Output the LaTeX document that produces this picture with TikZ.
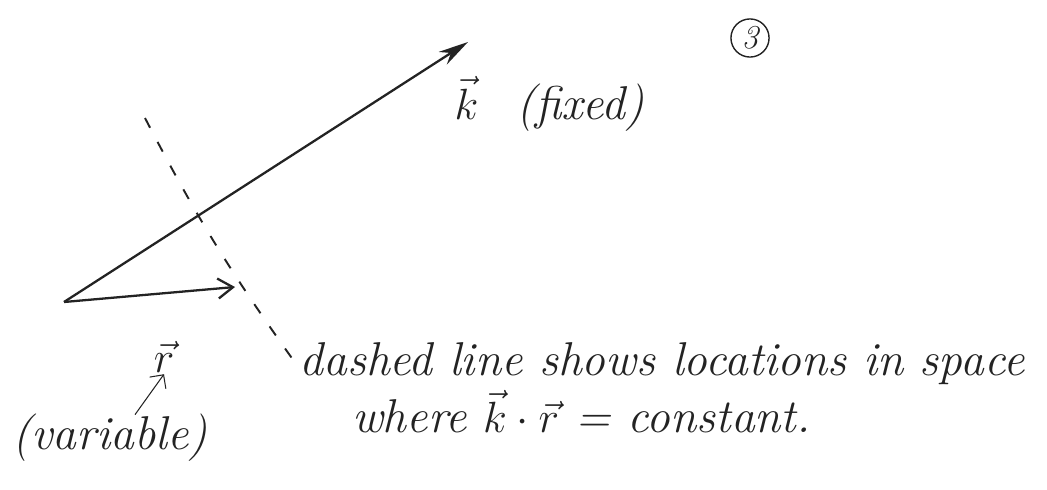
\documentclass[tikz,border=0pt]{standalone}
\usepackage{tikz}
\usetikzlibrary{arrows.meta, positioning}
\usepackage{amsmath}
\definecolor{ink-color}{RGB}{35,35,35}
\tikzset{
    vec/.style={ink-color, line width=1.3pt},
    hand/.style={ink-color, font=\fontsize{27}{32}\selectfont\itshape, inner sep=1pt}
}

\begin{document}
\begin{tikzpicture}[font=\large]
    \useasboundingbox (0,0) rectangle (20.94,9.78);
    
    % Base point and vector tips
    \coordinate (origin) at (1.28,3.74);
    \coordinate (k-tip) at (9.36,8.94);
    \coordinate (r-tip) at (4.70,4.04);
    
    % The two vectors
    \draw[vec, -{Stealth[length=6mm, width=3mm]}] (origin) -- (k-tip);
    \draw[vec, -{Straight Barb[length=3mm, width=4mm]}] (origin) -- (r-tip);
    
    % Dashed line of constant k.r
    \coordinate (dash-top) at (2.90,7.42);
    \coordinate (dash-bot) at (5.85,2.60);
    \draw[ink-color, line width=1.1pt, dash pattern=on 2.2mm off 3.2mm] (dash-top) to[bend right=4] (dash-bot);
    
    % Labels
    \node[hand, anchor=west] (k-label) at (9.05,7.70) {$\vec{k}$\hspace{0.8em}(fixed)};
    \node[draw, circle, ink-color, line width=0.8pt, inner sep=2pt, font=\fontsize{19}{22}\selectfont\itshape] (page-num) at (15.0,9.02) {3};
    \node[hand] (r-label) at (3.28,2.65) {$\vec{r}$};
    \node[hand] (variable-label) at (2.20,1.02) {(variable)};
    \draw[ink-color, line width=0.6pt, -{Straight Barb[length=2mm]}] (variable-label.north) ++(0.5,-0.05) -- (r-label.south);
    
    % Explanation
    \node[hand, anchor=west] (line-one) at (5.95,2.50) {dashed line shows locations in space};
    \node[hand, anchor=west] (line-two) at (7.00,1.55) {where $\vec{k}\cdot\vec{r}$ = constant.};
\end{tikzpicture}
\end{document}
